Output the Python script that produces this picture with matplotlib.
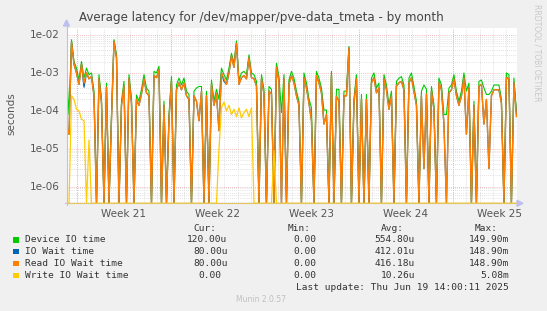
import numpy as np
import matplotlib
matplotlib.use("Agg")
import matplotlib.pyplot as plt
from matplotlib.patches import Rectangle, Polygon
from matplotlib.lines import Line2D

# values in microseconds, one sample about every 4.5 hours
device_io = [
    1340, 80, 7500, 2000, 1340, 650, 2000, 730, 1340, 900,
    1000, 330, 0, 900, 210, 0, 540, 0, 80, 7500,
    3000, 0, 180, 600, 0, 900, 210, 0, 260, 180,
    370, 900, 400, 330, 0, 1100, 1000, 1500, 0, 180,
    0, 80, 800, 0, 480, 730, 480, 730, 330, 270,
    0, 330, 400, 440, 440, 0, 330, 0, 650, 180,
    370, 200, 1340, 900, 650, 1340, 3300, 1800, 7000, 650,
    1000, 1100, 900, 3000, 1000, 900, 600, 0, 900, 370,
    0, 440, 370, 0, 1800, 800, 90, 900, 0, 650,
    1100, 730, 330, 180, 0, 1000, 540, 210, 120, 0,
    1100, 730, 400, 105, 105, 0, 1100, 0, 370, 370,
    0, 330, 330, 5000, 0, 210, 900, 0, 270, 0,
    270, 0, 730, 1000, 400, 540, 0, 900, 480, 145,
    330, 0, 600, 730, 800, 480, 0, 730, 1000, 440,
    180, 0, 330, 480, 370, 0, 440, 145, 0, 730,
    480, 80, 80, 400, 480, 900, 330, 180, 330, 1000,
    330, 540, 0, 180, 0, 600, 650, 400, 270, 270,
    330, 480, 480, 480, 210, 0, 1000, 900, 0, 730,
    95,
]
io_wait = [
    40, 24, 6500, 1700, 1000, 500, 1700, 420, 1000, 700,
    800, 250, 0, 700, 160, 0, 420, 0, 60, 6800,
    2500, 0, 140, 450, 0, 700, 160, 0, 200, 140,
    280, 700, 300, 250, 0, 850, 750, 1200, 0, 140,
    0, 60, 600, 0, 360, 550, 360, 550, 250, 200,
    0, 250, 180, 55, 330, 0, 250, 0, 500, 140,
    280, 30, 1000, 600, 500, 1000, 2800, 1400, 6000, 500,
    750, 850, 700, 2500, 750, 700, 450, 0, 700, 280,
    0, 330, 280, 0, 1400, 600, 0, 700, 0, 500,
    850, 550, 250, 140, 0, 750, 400, 160, 55, 0,
    850, 550, 300, 45, 80, 0, 850, 0, 240, 180,
    0, 250, 250, 4500, 0, 160, 700, 0, 200, 0,
    200, 0, 550, 750, 300, 400, 0, 700, 360, 110,
    250, 0, 450, 550, 600, 360, 0, 550, 750, 330,
    140, 0, 250, 3, 280, 0, 330, 110, 0, 550,
    360, 45, 0, 300, 360, 700, 250, 140, 250, 750,
    24, 400, 0, 140, 0, 450, 500, 45, 200, 3,
    250, 360, 360, 360, 160, 0, 750, 700, 0, 550,
    80,
]
read_io = [
    40, 24, 6500, 1700, 1000, 500, 1700, 540, 1000, 700,
    800, 250, 0, 700, 160, 0, 420, 0, 60, 6800,
    2500, 0, 140, 450, 0, 700, 160, 0, 200, 140,
    280, 700, 300, 250, 0, 850, 750, 1200, 0, 140,
    0, 60, 600, 0, 360, 550, 360, 550, 250, 200,
    0, 250, 180, 55, 330, 0, 250, 0, 500, 140,
    280, 30, 1000, 700, 500, 1000, 2800, 1400, 6000, 500,
    750, 850, 700, 2500, 750, 700, 450, 0, 700, 280,
    0, 330, 280, 0, 1400, 600, 0, 700, 0, 500,
    850, 550, 250, 140, 0, 750, 400, 160, 55, 0,
    850, 550, 300, 45, 80, 0, 850, 0, 240, 180,
    0, 250, 250, 4500, 0, 160, 700, 0, 200, 0,
    200, 0, 550, 750, 300, 400, 0, 700, 360, 110,
    250, 0, 450, 550, 600, 360, 0, 550, 750, 330,
    140, 0, 250, 3, 280, 0, 330, 110, 0, 550,
    360, 45, 0, 300, 360, 700, 250, 140, 250, 750,
    24, 400, 0, 140, 0, 450, 500, 45, 200, 3,
    250, 360, 360, 360, 160, 0, 750, 700, 0, 550,
    70,
]
write_io = [
    0, 0, 250, 200, 110, 100, 60, 55, 0, 17,
    0, 0, 0, 0, 0, 0, 0, 0, 0, 0,
    0, 0, 0, 0, 0, 0, 0, 0, 0, 0,
    0, 0, 0, 0, 0, 0, 0, 0, 0, 0,
    0, 0, 0, 0, 0, 0, 0, 0, 0, 0,
    0, 0, 0, 0, 0, 0, 0, 0, 0, 0,
    0, 10, 120, 170, 100, 140, 80, 110, 70, 120,
    65, 90, 110, 70, 120, 0, 0, 0, 0, 0,
    0, 0, 0, 9, 0, 0, 0, 0, 0, 0,
    0, 0, 0, 0, 0, 0, 0, 0, 0, 0,
    0, 0, 0, 0, 0, 0, 0, 0, 0, 0,
    0, 0, 0, 0, 0, 0, 0, 0, 0, 0,
    0, 0, 0, 0, 0, 0, 0, 0, 0, 0,
    0, 0, 0, 0, 0, 0, 0, 0, 0, 0,
    0, 0, 0, 0, 0, 0, 0, 0, 0, 0,
    0, 0, 0, 0, 0, 0, 0, 0, 0, 0,
    0, 0, 0, 0, 0, 0, 0, 0, 0, 0,
    0, 0, 0, 0, 0, 0, 0, 0, 0, 0,
    0,
]

series_names = ["Device IO time", "IO Wait time", "Read IO Wait time", "Write IO Wait time"]
series_colors = ["#00CC00", "#0066B3", "#FF8000", "#FFCC00"]
cur_vals = ["120.00u", "80.00u", "80.00u", "0.00"]
min_vals = ["0.00", "0.00", "0.00", "0.00"]
avg_vals = ["554.80u", "412.01u", "416.18u", "10.26u"]
max_vals = ["149.90m", "148.90m", "148.90m", "5.08m"]
week_labels = ["Week 21", "Week 22", "Week 23", "Week 24", "Week 25"]
ytick_vals = [1e-6, 1e-5, 1e-4, 1e-3, 1e-2]
ytick_labels = ["1e-06", "1e-05", "1e-04", "1e-03", "1e-02"]

W, H = 547, 311
fig = plt.figure(figsize=(W / 100, H / 100), dpi=100, facecolor="#F0F0F0")

# plot area in pixels
L, R, T, B = 66.5, 516.7, 27.5, 203.3
ax = fig.add_axes([L / W, 1 - B / H, (R - L) / W, (B - T) / H])
ax.set_facecolor("white")

ylo, yhi = 10 ** -6.438, 10 ** -1.802
span_days = 33.52
first_week = 0.76
ax.set_yscale("log")
ax.set_ylim(ylo, yhi)
ax.set_xlim(0, span_days)

# grid
minor_c = "#D8D8D8"
major_c = "#F0A8A8"
dots = (0, (1, 1.5))
for d in np.arange(first_week - 1, span_days, 1.0):
    if d > 0:
        ax.axvline(d, color=minor_c, lw=0.6, ls=dots, zorder=1)
for dec in range(-7, -1):
    for s in range(2, 10):
        v = s * 10.0 ** dec
        if ylo < v < yhi:
            ax.axhline(v, color=minor_c, lw=0.6, ls=dots, zorder=1)
for v in ytick_vals:
    ax.axhline(v, color=major_c, lw=0.6, ls=dots, zorder=1.5)
week_starts = first_week + 7 * np.arange(5)
for d in week_starts:
    ax.axvline(d, color=major_c, lw=0.6, ls=dots, zorder=1.5)

# data
t = np.arange(len(device_io)) * (33.5 / 180)
widths = [0.8, 0.9, 1.0, 0.9]
for vals, c, lw in zip([device_io, io_wait, read_io, write_io], series_colors, widths):
    y = np.array(vals, dtype=float) * 1e-6
    ax.plot(t, np.clip(y, ylo, None), color=c, lw=lw, zorder=3)

for s in ax.spines.values():
    s.set_visible(False)
ax.set_xticks([])
ax.set_yticks([])
ax.minorticks_off()

txt = "#555555"
for v, lab in zip(ytick_vals, ytick_labels):
    fig.text(60 / W, 1 - (B - (np.log10(v) - np.log10(ylo)) / (np.log10(yhi) - np.log10(ylo)) * (B - T)) / H,
             lab, ha="right", va="center", fontsize=7.5, color=txt)
for d, lab in zip(week_starts + 3.5, week_labels):
    ax.text(d, -0.035, lab, transform=ax.get_xaxis_transform(), ha="center", va="top",
            fontsize=7.5, color=txt)

# axes with arrows
ax_c = "#BFBFEF"
fig.add_artist(Line2D([L / W, L / W], [1 - (B + 2) / H, 1 - 22 / H], color=ax_c, lw=0.8))
fig.add_artist(Line2D([(L - 2) / W, 521 / W], [1 - B / H, 1 - B / H], color=ax_c, lw=0.8))
fig.add_artist(Polygon([[(L - 3) / W, 1 - 26 / H], [(L + 3) / W, 1 - 26 / H], [L / W, 1 - 20 / H]],
                       closed=True, color=ax_c))
fig.add_artist(Polygon([[517 / W, 1 - (B - 3) / H], [517 / W, 1 - (B + 3) / H], [523 / W, 1 - B / H]],
                       closed=True, color=ax_c))
# write series sits on the bottom edge when zero
fig.add_artist(Line2D([L / W, 516 / W], [1 - B / H, 1 - B / H], color="#FFCC00", lw=0.8, alpha=0.6))

fig.text(261 / W, 1 - 18 / H, "Average latency for /dev/mapper/pve-data_tmeta - by month",
         ha="center", va="center", fontsize=8.6, color="#444444")
fig.text(11 / W, 1 - 114 / H, "seconds", rotation=90, ha="center", va="center",
         fontsize=7.5, color=txt)
fig.text(537 / W, 1 - 53 / H, "RRDTOOL / TOBI OETIKER", rotation=270, ha="center", va="center",
         fontsize=5.5, color="#C8C8C8")

# legend
mono = "DejaVu Sans Mono"
fs = 6.8
cw = 5.67
lc = "#333333"
col_ends = [227.4, 321.7, 415.0, 509.0]
headers = ["Cur:", "Min:", "Avg:", "Max:"]
for xe, h in zip(col_ends, headers):
    fig.text((xe - 2 * cw) / W, 1 - 228.3 / H, h, ha="right", va="center",
             family=mono, fontsize=fs, color=lc)
rows_y = [240.0, 251.7, 263.3, 275.7]
for i, (name, c) in enumerate(zip(series_names, series_colors)):
    yy = rows_y[i]
    fig.add_artist(Rectangle((13.3 / W, 1 - (yy + 2.7) / H), 5.4 / W, 5.4 / H,
                             facecolor=c, edgecolor="none"))
    fig.text(25 / W, 1 - yy / H, name, ha="left", va="center", family=mono, fontsize=fs, color=lc)
    for xe, v in zip(col_ends, [cur_vals[i], min_vals[i], avg_vals[i], max_vals[i]]):
        off = 0 if v[-1] in "um" else cw
        fig.text((xe - off) / W, 1 - yy / H, v, ha="right", va="center",
                 family=mono, fontsize=fs, color=lc)
fig.text(509 / W, 1 - 287.7 / H, "Last update: Thu Jun 19 14:00:11 2025", ha="right", va="center",
         family=mono, fontsize=fs, color=lc)
fig.text(261 / W, 1 - 300 / H, "Munin 2.0.57", ha="center", va="center", fontsize=5.5, color="#C0C0C0")

fig.savefig("out.png", dpi=100, facecolor=fig.get_facecolor())
